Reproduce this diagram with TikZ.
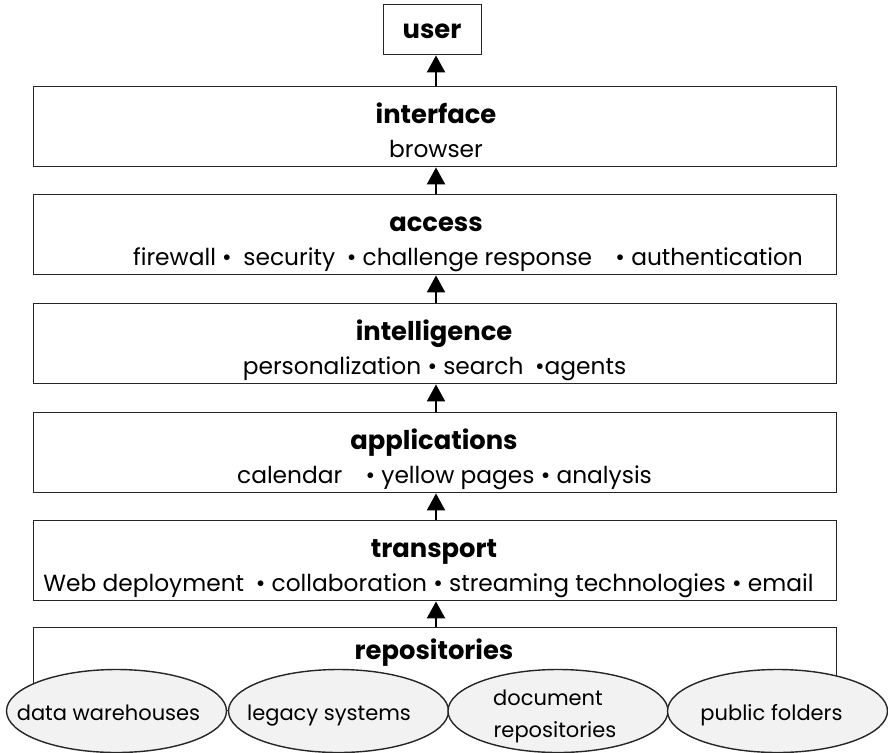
\documentclass[tikz,border=0pt]{standalone}
\usepackage{fontspec}
\setmainfont{Poppins}
\usetikzlibrary{arrows.meta,shapes.geometric}
\begin{document}
\begin{tikzpicture}[x=1pt,y=-1pt,
  layer/.style={draw=black!85, line width=1.4pt, fill=white, minimum width=803pt, minimum height=80pt, inner sep=0pt, anchor=north west},
  ttl/.style={font=\fontsize{25.8}{30}\selectfont\bfseries, inner sep=0pt, anchor=base},
  sub/.style={font=\fontsize{23.3}{27}\selectfont, inner sep=0pt, anchor=base},
  up/.style={-{Triangle[width=18pt,length=17pt]}, line width=2pt},
  repo/.style={ellipse, draw=black!85, line width=1.4pt, fill=black!5, minimum width=220pt, minimum height=83pt, inner sep=0pt},
  rtxt/.style={font=\fontsize{21}{25}\selectfont, inner sep=0pt, anchor=base}]
\useasboundingbox (0,0) rectangle (888,752);
% user
\node[draw=black!85, line width=1.4pt, minimum width=98pt, minimum height=50pt, inner sep=0pt, anchor=north west] (user) at (383,4) {};
\node[ttl] (userT) at (432,38) {user};
% layers
\node[layer] (iface) at (33,86) {};
\node[ttl] (ifaceT) at (436,123) {interface};
\node[sub] (ifaceS) at (436,157) {browser};

\node[layer] (access) at (33,194) {};
\node[ttl] (accessT) at (436,231) {access};
\node[sub] (accessS) at (468,265) {firewall •\enspace security\enspace• challenge response\quad• authentication};

\node[layer] (intel) at (33,303) {};
\node[ttl] (intelT) at (434,340) {intelligence};
\node[sub] (intelS) at (434.5,374) {personalization • search\enspace •agents};

\node[layer] (apps) at (33,412) {};
\node[ttl] (appsT) at (434,449) {applications};
\node[sub] (appsS) at (444.5,483) {calendar\quad • yellow pages • analysis};

\node[layer] (trans) at (33,520) {};
\node[ttl] (transT) at (434,557) {transport};
\node[sub] (transS) at (428.5,591) {Web deployment\enspace • collaboration • streaming technologies • email};

\node[draw=black!85, line width=1.4pt, fill=white, minimum width=803pt, minimum height=83pt, inner sep=0pt, anchor=north west] (repos) at (33,627) {};
\node[ttl] (reposT) at (434,659) {repositories};
% ellipses
\node[repo] (e1) at (116.5,711) {};
\node[repo] (e2) at (338.5,711) {};
\node[repo] (e3) at (558,711) {};
\node[repo] (e4) at (777.5,711) {};
\node[rtxt] (e1t) at (108.5,720) {data warehouses};
\node[rtxt] (e2t) at (329,720) {legacy systems};
\node[rtxt] (e3a) at (548,705) {document};
\node[rtxt] (e3b) at (555,737) {repositories};
\node[rtxt] (e4t) at (771.5,720) {public folders};
% arrows
\draw[up] (repos.north -| 436,0) -- (trans.south -| 436,0);
\draw[up] (trans.north -| 436,0) -- (apps.south -| 436,0);
\draw[up] (apps.north -| 436,0) -- (intel.south -| 436,0);
\draw[up] (intel.north -| 436,0) -- (access.south -| 436,0);
\draw[up] (access.north -| 436,0) -- (iface.south -| 436,0);
\draw[up] (iface.north -| 436,0) -- (user.south -| 436,0);
\end{tikzpicture}
\end{document}
